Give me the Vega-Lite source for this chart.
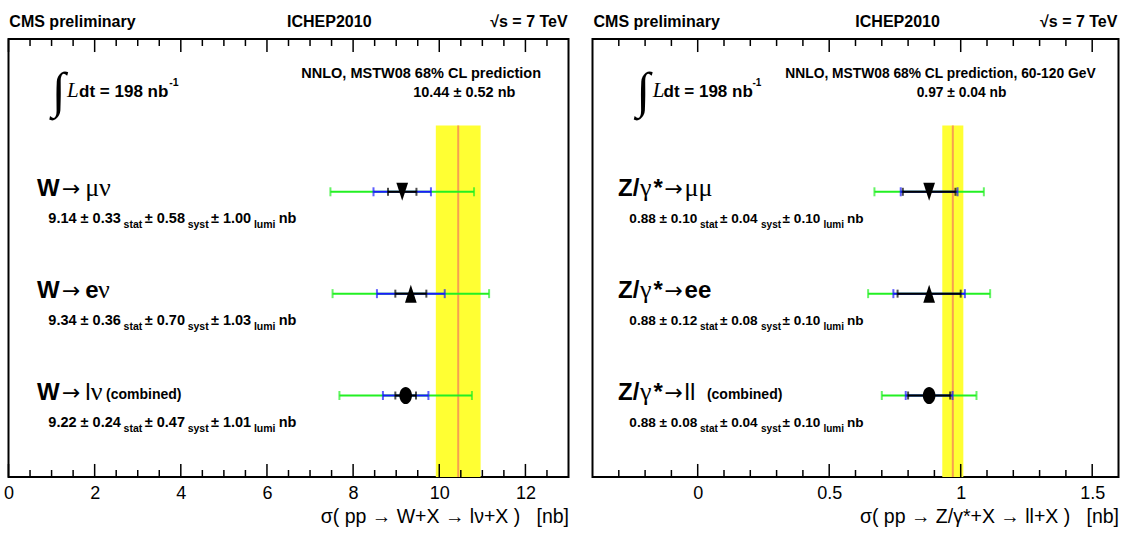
{
  "$schema": "https://vega.github.io/schema/vega-lite/v6.json",
  "background": "white",
  "padding": {"left": 1.5, "top": 12, "right": 0, "bottom": 0},
  "spacing": 22,
  "config": {
    "view": {"stroke": "black", "strokeWidth": 2},
    "font": "'Liberation Sans', sans-serif",
    "axis": {"domain": false, "grid": false, "ticks": false, "labelColor": "black", "titleColor": "black", "labelOverlap": false, "labelFlush": false}
  },
  "datasets": {
    "predL": [{"value": 10.44, "lo": 9.92, "hi": 10.96}],
    "predR": [{"value": 0.97, "lo": 0.93, "hi": 1.01}],
    "majL": [{"v": 0}, {"v": 2}, {"v": 4}, {"v": 6}, {"v": 8}, {"v": 10}, {"v": 12}],
    "minL": [{"v": 0.5}, {"v": 1}, {"v": 1.5}, {"v": 2.5}, {"v": 3}, {"v": 3.5}, {"v": 4.5}, {"v": 5}, {"v": 5.5}, {"v": 6.5}, {"v": 7}, {"v": 7.5}, {"v": 8.5}, {"v": 9}, {"v": 9.5}, {"v": 10.5}, {"v": 11}, {"v": 11.5}, {"v": 12.5}],
    "majR": [{"v": 0}, {"v": 0.5}, {"v": 1}, {"v": 1.5}],
    "minR": [{"v": -0.3}, {"v": -0.2}, {"v": -0.1}, {"v": 0.1}, {"v": 0.2}, {"v": 0.3}, {"v": 0.4}, {"v": 0.6}, {"v": 0.7}, {"v": 0.8}, {"v": 0.9}, {"v": 1.1}, {"v": 1.2}, {"v": 1.3}, {"v": 1.4}],
    "measL": [
      {"y": 1, "dec": "mu", "c": 9.14, "slo": 8.81, "shi": 9.47, "blo": 8.473, "bhi": 9.807, "tlo": 7.473, "thi": 10.807},
      {"y": 2, "dec": "e", "c": 9.34, "slo": 8.98, "shi": 9.70, "blo": 8.553, "bhi": 10.127, "tlo": 7.523, "thi": 11.157},
      {"y": 3, "dec": "comb", "c": 9.22, "slo": 8.98, "shi": 9.46, "blo": 8.692, "bhi": 9.748, "tlo": 7.682, "thi": 10.758}
    ],
    "measR": [
      {"y": 1, "dec": "mu", "c": 0.88, "slo": 0.78, "shi": 0.98, "blo": 0.772, "bhi": 0.988, "tlo": 0.672, "thi": 1.088},
      {"y": 2, "dec": "e", "c": 0.88, "slo": 0.76, "shi": 1.00, "blo": 0.744, "bhi": 1.016, "tlo": 0.648, "thi": 1.112},
      {"y": 3, "dec": "comb", "c": 0.88, "slo": 0.80, "shi": 0.96, "blo": 0.791, "bhi": 0.969, "tlo": 0.70, "thi": 1.06}
    ],
    "txtL": [
      {"k": "head", "x": 0.02, "y": -0.621, "t": "CMS preliminary"},
      {"k": "headc", "x": 7.447, "y": -0.621, "t": "ICHEP2010"},
      {"k": "headr", "x": 12.98, "y": -0.621, "t": "√s = 7 TeV"},
      {"k": "int", "x": 1.162, "y": 0.17, "t": "∫"},
      {"k": "ital", "x": 1.359, "y": 0.066, "t": "L"},
      {"k": "sum", "x": 1.638, "y": 0.066, "t": "dt = 198 nb"},
      {"k": "small", "x": 3.73, "y": -0.039, "t": "-1"},
      {"k": "pred", "x": 9.58, "y": -0.117, "t": "NNLO, MSTW08 68% CL prediction"},
      {"k": "pred", "x": 10.58, "y": 0.066, "t": "10.44 ± 0.52 nb"},
      {"k": "lab", "x": 0.662, "y": 1.04, "t": "W"},
      {"k": "arrow", "x": 1.243, "y": 1.04, "t": "→"},
      {"k": "greek", "x": 1.78, "y": 1.04, "t": "μν"},
      {"k": "val", "x": 0.925, "y": 1.31, "t": "9.14 ± 0.33"},
      {"k": "small", "x": 2.672, "y": 1.36, "t": "stat"},
      {"k": "val", "x": 3.163, "y": 1.31, "t": "± 0.58"},
      {"k": "small", "x": 4.159, "y": 1.36, "t": "syst"},
      {"k": "val", "x": 4.70, "y": 1.31, "t": "± 1.00"},
      {"k": "small", "x": 5.697, "y": 1.36, "t": "lumi"},
      {"k": "val", "x": 6.273, "y": 1.31, "t": "nb"},
      {"k": "lab", "x": 0.662, "y": 2.04, "t": "W"},
      {"k": "arrow", "x": 1.243, "y": 2.04, "t": "→"},
      {"k": "lab", "x": 1.78, "y": 2.04, "t": "e"},
      {"k": "greek", "x": 2.08, "y": 2.04, "t": "ν"},
      {"k": "val", "x": 0.925, "y": 2.31, "t": "9.34 ± 0.36"},
      {"k": "small", "x": 2.672, "y": 2.36, "t": "stat"},
      {"k": "val", "x": 3.163, "y": 2.31, "t": "± 0.70"},
      {"k": "small", "x": 4.159, "y": 2.36, "t": "syst"},
      {"k": "val", "x": 4.70, "y": 2.31, "t": "± 1.03"},
      {"k": "small", "x": 5.697, "y": 2.36, "t": "lumi"},
      {"k": "val", "x": 6.273, "y": 2.31, "t": "nb"},
      {"k": "lab", "x": 0.662, "y": 3.04, "t": "W"},
      {"k": "arrow", "x": 1.243, "y": 3.04, "t": "→"},
      {"k": "thin", "x": 1.78, "y": 3.04, "t": "l"},
      {"k": "greek", "x": 1.91, "y": 3.04, "t": "ν"},
      {"k": "comb", "x": 2.265, "y": 3.03, "t": "(combined)"},
      {"k": "val", "x": 0.925, "y": 3.31, "t": "9.22 ± 0.24"},
      {"k": "small", "x": 2.672, "y": 3.36, "t": "stat"},
      {"k": "val", "x": 3.163, "y": 3.31, "t": "± 0.47"},
      {"k": "small", "x": 4.159, "y": 3.36, "t": "syst"},
      {"k": "val", "x": 4.70, "y": 3.31, "t": "± 1.01"},
      {"k": "small", "x": 5.697, "y": 3.36, "t": "lumi"},
      {"k": "val", "x": 6.273, "y": 3.31, "t": "nb"}
    ],
    "txtR": [
      {"k": "head", "x": -0.396, "y": -0.621, "t": "CMS preliminary"},
      {"k": "headc", "x": 0.76, "y": -0.621, "t": "ICHEP2010"},
      {"k": "headr", "x": 1.596, "y": -0.621, "t": "√s = 7 TeV"},
      {"k": "int", "x": -0.208, "y": 0.17, "t": "∫"},
      {"k": "ital", "x": -0.171, "y": 0.066, "t": "L"},
      {"k": "sum", "x": -0.130, "y": 0.066, "t": "dt = 198 nb"},
      {"k": "small", "x": 0.208, "y": -0.039, "t": "-1"},
      {"k": "pred", "x": 0.923, "y": -0.117, "t": "NNLO, MSTW08 68% CL prediction, 60-120 GeV"},
      {"k": "pred", "x": 1.003, "y": 0.066, "t": "0.97 ± 0.04 nb"},
      {"k": "lab", "x": -0.303, "y": 1.04, "t": "Z/"},
      {"k": "greek", "x": -0.2196, "y": 1.04, "t": "γ"},
      {"k": "lab", "x": -0.168, "y": 1.04, "t": "*"},
      {"k": "arrow", "x": -0.126, "y": 1.04, "t": "→"},
      {"k": "greek", "x": -0.05, "y": 1.04, "t": "μμ"},
      {"k": "val", "x": -0.26, "y": 1.31, "t": "0.88 ± 0.10"},
      {"k": "small", "x": 0.0087, "y": 1.36, "t": "stat"},
      {"k": "val", "x": 0.0844, "y": 1.31, "t": "± 0.04"},
      {"k": "small", "x": 0.2407, "y": 1.36, "t": "syst"},
      {"k": "val", "x": 0.3228, "y": 1.31, "t": "± 0.10"},
      {"k": "small", "x": 0.478, "y": 1.36, "t": "lumi"},
      {"k": "val", "x": 0.5677, "y": 1.31, "t": "nb"},
      {"k": "lab", "x": -0.303, "y": 2.04, "t": "Z/"},
      {"k": "greek", "x": -0.2196, "y": 2.04, "t": "γ"},
      {"k": "lab", "x": -0.168, "y": 2.04, "t": "*"},
      {"k": "arrow", "x": -0.126, "y": 2.04, "t": "→"},
      {"k": "lab", "x": -0.05, "y": 2.04, "t": "ee"},
      {"k": "val", "x": -0.26, "y": 2.31, "t": "0.88 ± 0.12"},
      {"k": "small", "x": 0.0087, "y": 2.36, "t": "stat"},
      {"k": "val", "x": 0.0844, "y": 2.31, "t": "± 0.08"},
      {"k": "small", "x": 0.2407, "y": 2.36, "t": "syst"},
      {"k": "val", "x": 0.3228, "y": 2.31, "t": "± 0.10"},
      {"k": "small", "x": 0.478, "y": 2.36, "t": "lumi"},
      {"k": "val", "x": 0.5677, "y": 2.31, "t": "nb"},
      {"k": "lab", "x": -0.303, "y": 3.04, "t": "Z/"},
      {"k": "greek", "x": -0.2196, "y": 3.04, "t": "γ"},
      {"k": "lab", "x": -0.168, "y": 3.04, "t": "*"},
      {"k": "arrow", "x": -0.126, "y": 3.04, "t": "→"},
      {"k": "thin", "x": -0.05, "y": 3.04, "t": "ll"},
      {"k": "comb", "x": 0.035, "y": 3.03, "t": "(combined)"},
      {"k": "val", "x": -0.26, "y": 3.31, "t": "0.88 ± 0.08"},
      {"k": "small", "x": 0.0087, "y": 3.36, "t": "stat"},
      {"k": "val", "x": 0.0844, "y": 3.31, "t": "± 0.04"},
      {"k": "small", "x": 0.2407, "y": 3.36, "t": "syst"},
      {"k": "val", "x": 0.3228, "y": 3.31, "t": "± 0.10"},
      {"k": "small", "x": 0.478, "y": 3.36, "t": "lumi"},
      {"k": "val", "x": 0.5677, "y": 3.31, "t": "nb"}
    ]
  },
  "hconcat": [
    {
      "width": 560,
      "height": 438,
      "layer": [
        {"data": {"name": "predL"}, "mark": {"type": "rect", "color": "#ffff33"},
         "encoding": {"x": {"field": "lo", "type": "quantitative", "scale": {"domain": [0, 13], "nice": false, "zero": false},
            "axis": {"orient": "bottom", "values": [0, 2, 4, 6, 8, 10, 12], "format": "d", "ticks": false, "grid": false, "labelOverlap": false,
              "labelFontSize": 18, "labelPadding": 7,
              "title": "σ( pp → W+X → lν+X )\u00a0\u00a0\u00a0[nb]", "titleFontSize": 19.5, "titleFontWeight": "normal", "titleAnchor": "end", "titlePadding": 5}},
           "x2": {"field": "hi"},
           "y": {"datum": 0.35, "type": "quantitative", "scale": {"domain": [-0.5, 3.8], "reverse": true, "nice": false, "zero": false}, "axis": null},
           "y2": {"datum": 3.8}}},
        {"data": {"name": "predL"}, "mark": {"type": "rule", "color": "#f7a050", "strokeWidth": 2},
         "encoding": {"x": {"field": "value", "type": "quantitative", "scale": {"domain": [0, 13], "nice": false, "zero": false}},
           "y": {"datum": 0.35, "type": "quantitative", "scale": {"domain": [-0.5, 3.8], "reverse": true, "nice": false, "zero": false}, "axis": null},
           "y2": {"datum": 3.8}}},
        {"data": {"name": "majL"}, "mark": {"type": "rule", "color": "black", "strokeWidth": 1.5},
         "encoding": {"x": {"field": "v", "type": "quantitative", "scale": {"domain": [0, 13], "nice": false, "zero": false}},
           "y": {"datum": -0.5, "type": "quantitative", "scale": {"domain": [-0.5, 3.8], "reverse": true, "nice": false, "zero": false}, "axis": null}, "y2": {"datum": -0.372}}},
        {"data": {"name": "majL"}, "mark": {"type": "rule", "color": "black", "strokeWidth": 1.5},
         "encoding": {"x": {"field": "v", "type": "quantitative", "scale": {"domain": [0, 13], "nice": false, "zero": false}},
           "y": {"datum": 3.8, "type": "quantitative", "scale": {"domain": [-0.5, 3.8], "reverse": true, "nice": false, "zero": false}, "axis": null}, "y2": {"datum": 3.672}}},
        {"data": {"name": "minL"}, "mark": {"type": "rule", "color": "black", "strokeWidth": 1.5},
         "encoding": {"x": {"field": "v", "type": "quantitative", "scale": {"domain": [0, 13], "nice": false, "zero": false}},
           "y": {"datum": -0.5, "type": "quantitative", "scale": {"domain": [-0.5, 3.8], "reverse": true, "nice": false, "zero": false}, "axis": null}, "y2": {"datum": -0.431}}},
        {"data": {"name": "minL"}, "mark": {"type": "rule", "color": "black", "strokeWidth": 1.5},
         "encoding": {"x": {"field": "v", "type": "quantitative", "scale": {"domain": [0, 13], "nice": false, "zero": false}},
           "y": {"datum": 3.8, "type": "quantitative", "scale": {"domain": [-0.5, 3.8], "reverse": true, "nice": false, "zero": false}, "axis": null}, "y2": {"datum": 3.731}}},
        {"data": {"name": "measL"}, "mark": {"type": "errorbar", "ticks": true, "size": 9, "thickness": 2, "color": "#22f022"},
         "encoding": {"x": {"field": "tlo", "type": "quantitative", "title": "σ( pp → W+X → lν+X )\u00a0\u00a0\u00a0[nb]", "scale": {"domain": [0, 13], "nice": false, "zero": false}}, "x2": {"field": "thi"},
           "y": {"field": "y", "type": "quantitative", "scale": {"domain": [-0.5, 3.8], "reverse": true, "nice": false, "zero": false}, "axis": null}}},
        {"data": {"name": "measL"}, "mark": {"type": "errorbar", "ticks": true, "size": 9, "thickness": 2, "color": "#1a1aff"},
         "encoding": {"x": {"field": "blo", "type": "quantitative", "title": "σ( pp → W+X → lν+X )\u00a0\u00a0\u00a0[nb]", "scale": {"domain": [0, 13], "nice": false, "zero": false}}, "x2": {"field": "bhi"},
           "y": {"field": "y", "type": "quantitative", "scale": {"domain": [-0.5, 3.8], "reverse": true, "nice": false, "zero": false}, "axis": null}}},
        {"data": {"name": "measL"}, "mark": {"type": "errorbar", "ticks": true, "size": 8, "thickness": 2, "color": "black"},
         "encoding": {"x": {"field": "slo", "type": "quantitative", "title": "σ( pp → W+X → lν+X )\u00a0\u00a0\u00a0[nb]", "scale": {"domain": [0, 13], "nice": false, "zero": false}}, "x2": {"field": "shi"},
           "y": {"field": "y", "type": "quantitative", "scale": {"domain": [-0.5, 3.8], "reverse": true, "nice": false, "zero": false}, "axis": null}}},
        {"data": {"name": "measL"}, "mark": {"type": "point", "filled": true, "opacity": 1, "size": 324, "color": "black", "strokeWidth": 0},
         "encoding": {"x": {"field": "c", "type": "quantitative", "scale": {"domain": [0, 13], "nice": false, "zero": false}},
           "y": {"field": "y", "type": "quantitative", "scale": {"domain": [-0.5, 3.8], "reverse": true, "nice": false, "zero": false}, "axis": null},
           "shape": {"field": "dec", "type": "nominal", "legend": null, "scale": {"domain": ["mu", "e", "comb"], "range": ["M-0.65,-1L0.65,-1L0,1Z", "M0,-1L0.65,1L-0.65,1Z", "M-0.7,0A0.7,0.95,0,1,0,0.7,0A0.7,0.95,0,1,0,-0.7,0Z"]}}}},
        {"data": {"name": "txtL"}, "transform": [{"filter": "datum.k === 'head'"}], "mark": {"type": "text", "align": "left", "baseline": "alphabetic", "fontSize": 16, "fontWeight": "bold"},
         "encoding": {"x": {"field": "x", "type": "quantitative", "scale": {"domain": [0, 13], "nice": false, "zero": false}}, "y": {"field": "y", "type": "quantitative", "scale": {"domain": [-0.5, 3.8], "reverse": true, "nice": false, "zero": false}, "axis": null}, "text": {"field": "t"}}},
        {"data": {"name": "txtL"}, "transform": [{"filter": "datum.k === 'headc'"}], "mark": {"type": "text", "align": "center", "baseline": "alphabetic", "fontSize": 16, "fontWeight": "bold"},
         "encoding": {"x": {"field": "x", "type": "quantitative", "scale": {"domain": [0, 13], "nice": false, "zero": false}}, "y": {"field": "y", "type": "quantitative", "scale": {"domain": [-0.5, 3.8], "reverse": true, "nice": false, "zero": false}, "axis": null}, "text": {"field": "t"}}},
        {"data": {"name": "txtL"}, "transform": [{"filter": "datum.k === 'headr'"}], "mark": {"type": "text", "align": "right", "baseline": "alphabetic", "fontSize": 16, "fontWeight": "bold"},
         "encoding": {"x": {"field": "x", "type": "quantitative", "scale": {"domain": [0, 13], "nice": false, "zero": false}}, "y": {"field": "y", "type": "quantitative", "scale": {"domain": [-0.5, 3.8], "reverse": true, "nice": false, "zero": false}, "axis": null}, "text": {"field": "t"}}},
        {"data": {"name": "txtL"}, "transform": [{"filter": "datum.k === 'int'"}], "mark": {"type": "text", "align": "center", "baseline": "alphabetic", "fontSize": 50, "font": "'Liberation Serif', serif"},
         "encoding": {"x": {"field": "x", "type": "quantitative", "scale": {"domain": [0, 13], "nice": false, "zero": false}}, "y": {"field": "y", "type": "quantitative", "scale": {"domain": [-0.5, 3.8], "reverse": true, "nice": false, "zero": false}, "axis": null}, "text": {"field": "t"}}},
        {"data": {"name": "txtL"}, "transform": [{"filter": "datum.k === 'ital'"}], "mark": {"type": "text", "align": "left", "baseline": "alphabetic", "fontSize": 21, "fontStyle": "italic", "font": "'Liberation Serif', serif"},
         "encoding": {"x": {"field": "x", "type": "quantitative", "scale": {"domain": [0, 13], "nice": false, "zero": false}}, "y": {"field": "y", "type": "quantitative", "scale": {"domain": [-0.5, 3.8], "reverse": true, "nice": false, "zero": false}, "axis": null}, "text": {"field": "t"}}},
        {"data": {"name": "txtL"}, "transform": [{"filter": "datum.k === 'sum'"}], "mark": {"type": "text", "align": "left", "baseline": "alphabetic", "fontSize": 17, "fontWeight": "bold"},
         "encoding": {"x": {"field": "x", "type": "quantitative", "scale": {"domain": [0, 13], "nice": false, "zero": false}}, "y": {"field": "y", "type": "quantitative", "scale": {"domain": [-0.5, 3.8], "reverse": true, "nice": false, "zero": false}, "axis": null}, "text": {"field": "t"}}},
        {"data": {"name": "txtL"}, "transform": [{"filter": "datum.k === 'small'"}], "mark": {"type": "text", "align": "left", "baseline": "alphabetic", "fontSize": 10.5, "fontWeight": "bold"},
         "encoding": {"x": {"field": "x", "type": "quantitative", "scale": {"domain": [0, 13], "nice": false, "zero": false}}, "y": {"field": "y", "type": "quantitative", "scale": {"domain": [-0.5, 3.8], "reverse": true, "nice": false, "zero": false}, "axis": null}, "text": {"field": "t"}}},
        {"data": {"name": "txtL"}, "transform": [{"filter": "datum.k === 'pred'"}], "mark": {"type": "text", "align": "center", "baseline": "alphabetic", "fontSize": 14.5, "fontWeight": "bold"},
         "encoding": {"x": {"field": "x", "type": "quantitative", "scale": {"domain": [0, 13], "nice": false, "zero": false}}, "y": {"field": "y", "type": "quantitative", "scale": {"domain": [-0.5, 3.8], "reverse": true, "nice": false, "zero": false}, "axis": null}, "text": {"field": "t"}}},
        {"data": {"name": "txtL"}, "transform": [{"filter": "datum.k === 'lab'"}], "mark": {"type": "text", "align": "left", "baseline": "alphabetic", "fontSize": 24, "fontWeight": "bold"},
         "encoding": {"x": {"field": "x", "type": "quantitative", "scale": {"domain": [0, 13], "nice": false, "zero": false}}, "y": {"field": "y", "type": "quantitative", "scale": {"domain": [-0.5, 3.8], "reverse": true, "nice": false, "zero": false}, "axis": null}, "text": {"field": "t"}}},
        {"data": {"name": "txtL"}, "transform": [{"filter": "datum.k === 'arrow'"}], "mark": {"type": "text", "align": "left", "baseline": "alphabetic", "fontSize": 22, "font": "'DejaVu Sans', sans-serif"},
         "encoding": {"x": {"field": "x", "type": "quantitative", "scale": {"domain": [0, 13], "nice": false, "zero": false}}, "y": {"field": "y", "type": "quantitative", "scale": {"domain": [-0.5, 3.8], "reverse": true, "nice": false, "zero": false}, "axis": null}, "text": {"field": "t"}}},
        {"data": {"name": "txtL"}, "transform": [{"filter": "datum.k === 'greek'"}], "mark": {"type": "text", "align": "left", "baseline": "alphabetic", "fontSize": 26, "font": "'Liberation Serif', serif"},
         "encoding": {"x": {"field": "x", "type": "quantitative", "scale": {"domain": [0, 13], "nice": false, "zero": false}}, "y": {"field": "y", "type": "quantitative", "scale": {"domain": [-0.5, 3.8], "reverse": true, "nice": false, "zero": false}, "axis": null}, "text": {"field": "t"}}},
        {"data": {"name": "txtL"}, "transform": [{"filter": "datum.k === 'thin'"}], "mark": {"type": "text", "align": "left", "baseline": "alphabetic", "fontSize": 24},
         "encoding": {"x": {"field": "x", "type": "quantitative", "scale": {"domain": [0, 13], "nice": false, "zero": false}}, "y": {"field": "y", "type": "quantitative", "scale": {"domain": [-0.5, 3.8], "reverse": true, "nice": false, "zero": false}, "axis": null}, "text": {"field": "t"}}},
        {"data": {"name": "txtL"}, "transform": [{"filter": "datum.k === 'comb'"}], "mark": {"type": "text", "align": "left", "baseline": "alphabetic", "fontSize": 14, "fontWeight": "bold"},
         "encoding": {"x": {"field": "x", "type": "quantitative", "scale": {"domain": [0, 13], "nice": false, "zero": false}}, "y": {"field": "y", "type": "quantitative", "scale": {"domain": [-0.5, 3.8], "reverse": true, "nice": false, "zero": false}, "axis": null}, "text": {"field": "t"}}},
        {"data": {"name": "txtL"}, "transform": [{"filter": "datum.k === 'val'"}], "mark": {"type": "text", "align": "left", "baseline": "alphabetic", "fontSize": 14.5, "fontWeight": "bold"},
         "encoding": {"x": {"field": "x", "type": "quantitative", "scale": {"domain": [0, 13], "nice": false, "zero": false}}, "y": {"field": "y", "type": "quantitative", "scale": {"domain": [-0.5, 3.8], "reverse": true, "nice": false, "zero": false}, "axis": null}, "text": {"field": "t"}}}
      ]
    },
    {
      "width": 526,
      "height": 438,
      "layer": [
        {"data": {"name": "predR"}, "mark": {"type": "rect", "color": "#ffff33"},
         "encoding": {"x": {"field": "lo", "type": "quantitative", "scale": {"domain": [-0.4, 1.6], "nice": false, "zero": false},
            "axis": {"orient": "bottom", "values": [0, 0.5, 1, 1.5], "format": "~g", "ticks": false, "grid": false, "labelOverlap": false,
              "labelFontSize": 18, "labelPadding": 7,
              "title": "σ( pp → Z/γ*+X → ll+X )\u00a0\u00a0\u00a0[nb]", "titleFontSize": 19.5, "titleFontWeight": "normal", "titleAnchor": "end", "titlePadding": 5}},
           "x2": {"field": "hi"},
           "y": {"datum": 0.35, "type": "quantitative", "scale": {"domain": [-0.5, 3.8], "reverse": true, "nice": false, "zero": false}, "axis": null},
           "y2": {"datum": 3.8}}},
        {"data": {"name": "predR"}, "mark": {"type": "rule", "color": "#f7a050", "strokeWidth": 2},
         "encoding": {"x": {"field": "value", "type": "quantitative", "scale": {"domain": [-0.4, 1.6], "nice": false, "zero": false}},
           "y": {"datum": 0.35, "type": "quantitative", "scale": {"domain": [-0.5, 3.8], "reverse": true, "nice": false, "zero": false}, "axis": null},
           "y2": {"datum": 3.8}}},
        {"data": {"name": "majR"}, "mark": {"type": "rule", "color": "black", "strokeWidth": 1.5},
         "encoding": {"x": {"field": "v", "type": "quantitative", "scale": {"domain": [-0.4, 1.6], "nice": false, "zero": false}},
           "y": {"datum": -0.5, "type": "quantitative", "scale": {"domain": [-0.5, 3.8], "reverse": true, "nice": false, "zero": false}, "axis": null}, "y2": {"datum": -0.372}}},
        {"data": {"name": "majR"}, "mark": {"type": "rule", "color": "black", "strokeWidth": 1.5},
         "encoding": {"x": {"field": "v", "type": "quantitative", "scale": {"domain": [-0.4, 1.6], "nice": false, "zero": false}},
           "y": {"datum": 3.8, "type": "quantitative", "scale": {"domain": [-0.5, 3.8], "reverse": true, "nice": false, "zero": false}, "axis": null}, "y2": {"datum": 3.672}}},
        {"data": {"name": "minR"}, "mark": {"type": "rule", "color": "black", "strokeWidth": 1.5},
         "encoding": {"x": {"field": "v", "type": "quantitative", "scale": {"domain": [-0.4, 1.6], "nice": false, "zero": false}},
           "y": {"datum": -0.5, "type": "quantitative", "scale": {"domain": [-0.5, 3.8], "reverse": true, "nice": false, "zero": false}, "axis": null}, "y2": {"datum": -0.431}}},
        {"data": {"name": "minR"}, "mark": {"type": "rule", "color": "black", "strokeWidth": 1.5},
         "encoding": {"x": {"field": "v", "type": "quantitative", "scale": {"domain": [-0.4, 1.6], "nice": false, "zero": false}},
           "y": {"datum": 3.8, "type": "quantitative", "scale": {"domain": [-0.5, 3.8], "reverse": true, "nice": false, "zero": false}, "axis": null}, "y2": {"datum": 3.731}}},
        {"data": {"name": "measR"}, "mark": {"type": "errorbar", "ticks": true, "size": 9, "thickness": 2, "color": "#22f022"},
         "encoding": {"x": {"field": "tlo", "type": "quantitative", "title": "σ( pp → Z/γ*+X → ll+X )\u00a0\u00a0\u00a0[nb]", "scale": {"domain": [-0.4, 1.6], "nice": false, "zero": false}}, "x2": {"field": "thi"},
           "y": {"field": "y", "type": "quantitative", "scale": {"domain": [-0.5, 3.8], "reverse": true, "nice": false, "zero": false}, "axis": null}}},
        {"data": {"name": "measR"}, "mark": {"type": "errorbar", "ticks": true, "size": 9, "thickness": 2, "color": "#1a1aff"},
         "encoding": {"x": {"field": "blo", "type": "quantitative", "title": "σ( pp → Z/γ*+X → ll+X )\u00a0\u00a0\u00a0[nb]", "scale": {"domain": [-0.4, 1.6], "nice": false, "zero": false}}, "x2": {"field": "bhi"},
           "y": {"field": "y", "type": "quantitative", "scale": {"domain": [-0.5, 3.8], "reverse": true, "nice": false, "zero": false}, "axis": null}}},
        {"data": {"name": "measR"}, "mark": {"type": "errorbar", "ticks": true, "size": 8, "thickness": 2, "color": "black"},
         "encoding": {"x": {"field": "slo", "type": "quantitative", "title": "σ( pp → Z/γ*+X → ll+X )\u00a0\u00a0\u00a0[nb]", "scale": {"domain": [-0.4, 1.6], "nice": false, "zero": false}}, "x2": {"field": "shi"},
           "y": {"field": "y", "type": "quantitative", "scale": {"domain": [-0.5, 3.8], "reverse": true, "nice": false, "zero": false}, "axis": null}}},
        {"data": {"name": "measR"}, "mark": {"type": "point", "filled": true, "opacity": 1, "size": 324, "color": "black", "strokeWidth": 0},
         "encoding": {"x": {"field": "c", "type": "quantitative", "scale": {"domain": [-0.4, 1.6], "nice": false, "zero": false}},
           "y": {"field": "y", "type": "quantitative", "scale": {"domain": [-0.5, 3.8], "reverse": true, "nice": false, "zero": false}, "axis": null},
           "shape": {"field": "dec", "type": "nominal", "legend": null, "scale": {"domain": ["mu", "e", "comb"], "range": ["M-0.65,-1L0.65,-1L0,1Z", "M0,-1L0.65,1L-0.65,1Z", "M-0.7,0A0.7,0.95,0,1,0,0.7,0A0.7,0.95,0,1,0,-0.7,0Z"]}}}},
        {"data": {"name": "txtR"}, "transform": [{"filter": "datum.k === 'head'"}], "mark": {"type": "text", "align": "left", "baseline": "alphabetic", "fontSize": 16, "fontWeight": "bold"},
         "encoding": {"x": {"field": "x", "type": "quantitative", "scale": {"domain": [-0.4, 1.6], "nice": false, "zero": false}}, "y": {"field": "y", "type": "quantitative", "scale": {"domain": [-0.5, 3.8], "reverse": true, "nice": false, "zero": false}, "axis": null}, "text": {"field": "t"}}},
        {"data": {"name": "txtR"}, "transform": [{"filter": "datum.k === 'headc'"}], "mark": {"type": "text", "align": "center", "baseline": "alphabetic", "fontSize": 16, "fontWeight": "bold"},
         "encoding": {"x": {"field": "x", "type": "quantitative", "scale": {"domain": [-0.4, 1.6], "nice": false, "zero": false}}, "y": {"field": "y", "type": "quantitative", "scale": {"domain": [-0.5, 3.8], "reverse": true, "nice": false, "zero": false}, "axis": null}, "text": {"field": "t"}}},
        {"data": {"name": "txtR"}, "transform": [{"filter": "datum.k === 'headr'"}], "mark": {"type": "text", "align": "right", "baseline": "alphabetic", "fontSize": 16, "fontWeight": "bold"},
         "encoding": {"x": {"field": "x", "type": "quantitative", "scale": {"domain": [-0.4, 1.6], "nice": false, "zero": false}}, "y": {"field": "y", "type": "quantitative", "scale": {"domain": [-0.5, 3.8], "reverse": true, "nice": false, "zero": false}, "axis": null}, "text": {"field": "t"}}},
        {"data": {"name": "txtR"}, "transform": [{"filter": "datum.k === 'int'"}], "mark": {"type": "text", "align": "center", "baseline": "alphabetic", "fontSize": 50, "font": "'Liberation Serif', serif"},
         "encoding": {"x": {"field": "x", "type": "quantitative", "scale": {"domain": [-0.4, 1.6], "nice": false, "zero": false}}, "y": {"field": "y", "type": "quantitative", "scale": {"domain": [-0.5, 3.8], "reverse": true, "nice": false, "zero": false}, "axis": null}, "text": {"field": "t"}}},
        {"data": {"name": "txtR"}, "transform": [{"filter": "datum.k === 'ital'"}], "mark": {"type": "text", "align": "left", "baseline": "alphabetic", "fontSize": 21, "fontStyle": "italic", "font": "'Liberation Serif', serif"},
         "encoding": {"x": {"field": "x", "type": "quantitative", "scale": {"domain": [-0.4, 1.6], "nice": false, "zero": false}}, "y": {"field": "y", "type": "quantitative", "scale": {"domain": [-0.5, 3.8], "reverse": true, "nice": false, "zero": false}, "axis": null}, "text": {"field": "t"}}},
        {"data": {"name": "txtR"}, "transform": [{"filter": "datum.k === 'sum'"}], "mark": {"type": "text", "align": "left", "baseline": "alphabetic", "fontSize": 17, "fontWeight": "bold"},
         "encoding": {"x": {"field": "x", "type": "quantitative", "scale": {"domain": [-0.4, 1.6], "nice": false, "zero": false}}, "y": {"field": "y", "type": "quantitative", "scale": {"domain": [-0.5, 3.8], "reverse": true, "nice": false, "zero": false}, "axis": null}, "text": {"field": "t"}}},
        {"data": {"name": "txtR"}, "transform": [{"filter": "datum.k === 'small'"}], "mark": {"type": "text", "align": "left", "baseline": "alphabetic", "fontSize": 10, "fontWeight": "bold"},
         "encoding": {"x": {"field": "x", "type": "quantitative", "scale": {"domain": [-0.4, 1.6], "nice": false, "zero": false}}, "y": {"field": "y", "type": "quantitative", "scale": {"domain": [-0.5, 3.8], "reverse": true, "nice": false, "zero": false}, "axis": null}, "text": {"field": "t"}}},
        {"data": {"name": "txtR"}, "transform": [{"filter": "datum.k === 'pred'"}], "mark": {"type": "text", "align": "center", "baseline": "alphabetic", "fontSize": 13.8, "fontWeight": "bold"},
         "encoding": {"x": {"field": "x", "type": "quantitative", "scale": {"domain": [-0.4, 1.6], "nice": false, "zero": false}}, "y": {"field": "y", "type": "quantitative", "scale": {"domain": [-0.5, 3.8], "reverse": true, "nice": false, "zero": false}, "axis": null}, "text": {"field": "t"}}},
        {"data": {"name": "txtR"}, "transform": [{"filter": "datum.k === 'lab'"}], "mark": {"type": "text", "align": "left", "baseline": "alphabetic", "fontSize": 24, "fontWeight": "bold"},
         "encoding": {"x": {"field": "x", "type": "quantitative", "scale": {"domain": [-0.4, 1.6], "nice": false, "zero": false}}, "y": {"field": "y", "type": "quantitative", "scale": {"domain": [-0.5, 3.8], "reverse": true, "nice": false, "zero": false}, "axis": null}, "text": {"field": "t"}}},
        {"data": {"name": "txtR"}, "transform": [{"filter": "datum.k === 'arrow'"}], "mark": {"type": "text", "align": "left", "baseline": "alphabetic", "fontSize": 22, "font": "'DejaVu Sans', sans-serif"},
         "encoding": {"x": {"field": "x", "type": "quantitative", "scale": {"domain": [-0.4, 1.6], "nice": false, "zero": false}}, "y": {"field": "y", "type": "quantitative", "scale": {"domain": [-0.5, 3.8], "reverse": true, "nice": false, "zero": false}, "axis": null}, "text": {"field": "t"}}},
        {"data": {"name": "txtR"}, "transform": [{"filter": "datum.k === 'greek'"}], "mark": {"type": "text", "align": "left", "baseline": "alphabetic", "fontSize": 26, "font": "'Liberation Serif', serif"},
         "encoding": {"x": {"field": "x", "type": "quantitative", "scale": {"domain": [-0.4, 1.6], "nice": false, "zero": false}}, "y": {"field": "y", "type": "quantitative", "scale": {"domain": [-0.5, 3.8], "reverse": true, "nice": false, "zero": false}, "axis": null}, "text": {"field": "t"}}},
        {"data": {"name": "txtR"}, "transform": [{"filter": "datum.k === 'thin'"}], "mark": {"type": "text", "align": "left", "baseline": "alphabetic", "fontSize": 24},
         "encoding": {"x": {"field": "x", "type": "quantitative", "scale": {"domain": [-0.4, 1.6], "nice": false, "zero": false}}, "y": {"field": "y", "type": "quantitative", "scale": {"domain": [-0.5, 3.8], "reverse": true, "nice": false, "zero": false}, "axis": null}, "text": {"field": "t"}}},
        {"data": {"name": "txtR"}, "transform": [{"filter": "datum.k === 'comb'"}], "mark": {"type": "text", "align": "left", "baseline": "alphabetic", "fontSize": 14, "fontWeight": "bold"},
         "encoding": {"x": {"field": "x", "type": "quantitative", "scale": {"domain": [-0.4, 1.6], "nice": false, "zero": false}}, "y": {"field": "y", "type": "quantitative", "scale": {"domain": [-0.5, 3.8], "reverse": true, "nice": false, "zero": false}, "axis": null}, "text": {"field": "t"}}},
        {"data": {"name": "txtR"}, "transform": [{"filter": "datum.k === 'val'"}], "mark": {"type": "text", "align": "left", "baseline": "alphabetic", "fontSize": 13.6, "fontWeight": "bold"},
         "encoding": {"x": {"field": "x", "type": "quantitative", "scale": {"domain": [-0.4, 1.6], "nice": false, "zero": false}}, "y": {"field": "y", "type": "quantitative", "scale": {"domain": [-0.5, 3.8], "reverse": true, "nice": false, "zero": false}, "axis": null}, "text": {"field": "t"}}}
      ]
    }
  ]
}
